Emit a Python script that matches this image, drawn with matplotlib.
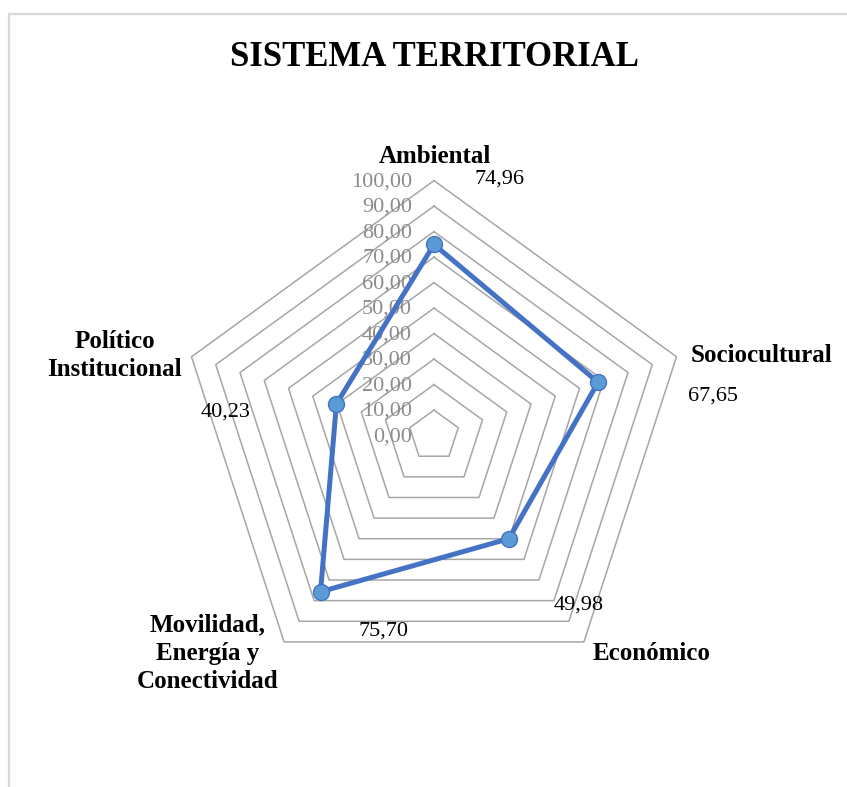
"""
Radar chart: SISTEMA TERRITORIAL (pentagon grid, Excel style).
"""

import numpy as np
import matplotlib
matplotlib.use("Agg")
import matplotlib.pyplot as plt
from matplotlib.patches import Rectangle

# Data
categories = ["Ambiental", "Sociocultural", "Económico",
              "Movilidad,\nEnergía y\nConectividad", "Político\nInstitucional"]
values = [74.96, 67.65, 49.98, 75.70, 40.23]
value_labels = ["74,96", "67,65", "49,98", "75,70", "40,23"]
ring_values = [10, 20, 30, 40, 50, 60, 70, 80, 90, 100]
tick_labels = ["0,00", "10,00", "20,00", "30,00", "40,00", "50,00",
               "60,00", "70,00", "80,00", "90,00", "100,00"]

SERIF = ["Liberation Serif", "DejaVu Serif"]
LINE_BLUE = "#4472C4"
MARK_BLUE = "#5B9BD5"
GRID_GRAY = "#A6A6A6"
TICK_GRAY = "#8C8C8C"

W, H, DPI = 847, 787, 100
CX, CY = 434.0, 435.6          # centre in pixels (from top-left)
PX_PER_UNIT = 2.55             # 100 -> 255 px

fig = plt.figure(figsize=(W / DPI, H / DPI), dpi=DPI)
ax = fig.add_axes([0, 0, 1, 1])
ax.set_xlim(-CX / PX_PER_UNIT, (W - CX) / PX_PER_UNIT)
ax.set_ylim(-(H - CY) / PX_PER_UNIT, CY / PX_PER_UNIT)
ax.axis("off")

# chart-area border (only top and left edges visible)
fig.patches.append(Rectangle((9 / W, -0.1), 1.2, (H - 14) / H + 0.1,
                             transform=fig.transFigure, fill=False,
                             edgecolor="#D9D9D9", linewidth=1.6))

n = len(categories)
angles = np.pi / 2 - np.arange(n) * 2 * np.pi / n
ca, sa = np.cos(angles), np.sin(angles)

# pentagon rings
for rv in ring_values:
    ax.plot(np.append(rv * ca, rv * ca[0]), np.append(rv * sa, rv * sa[0]),
            color=GRID_GRAY, linewidth=1.1, zorder=1)

# radial tick labels
for rv, lab in zip([0] + ring_values, tick_labels):
    ax.text(-22 / PX_PER_UNIT, rv - 0.5, lab, ha="right", va="center",
            fontsize=16, color=TICK_GRAY, family=SERIF, zorder=2)

# series
v = np.array(values)
ax.plot(np.append(v * ca, v[0] * ca[0]), np.append(v * sa, v[0] * sa[0]),
        color=LINE_BLUE, linewidth=3.6, zorder=3, solid_joinstyle="round")
ax.plot(v * ca, v * sa, linestyle="none", marker="o", markersize=11.5,
        markerfacecolor=MARK_BLUE, markeredgecolor=LINE_BLUE,
        markeredgewidth=1.0, zorder=4)

# data labels (offsets in points from each point)
label_offsets = [(47, 47), (83, -10), (50, -48), (45, -28), (-80, -6)]
for i, (lab, off) in enumerate(zip(value_labels, label_offsets)):
    ax.annotate(lab, (v[i] * ca[i], v[i] * sa[i]), xytext=off,
                textcoords="offset points", ha="center", va="center",
                fontsize=16, family=SERIF, color="black", zorder=5)

# category labels (offsets in points from the outer vertex)
cat_style = [((1, 17), "center"), ((10, 1), "left"), ((6, -8), "left"),
             ((-4, -8), "right"), ((-7, 1), "right")]
for i, (cat, (off, ha)) in enumerate(zip(categories, cat_style)):
    ax.annotate(cat, (100 * ca[i], 100 * sa[i]), xytext=off,
                textcoords="offset points", ha=ha, va="center",
                multialignment="center", linespacing=1.3,
                fontsize=18, fontweight="bold", family=SERIF, color="black")

fig.text(434 / W, 1 - 57 / H, "SISTEMA TERRITORIAL", ha="center", va="center",
         fontsize=25, fontweight="bold", family=SERIF)

fig.savefig("out.png", dpi=DPI, facecolor="white")
